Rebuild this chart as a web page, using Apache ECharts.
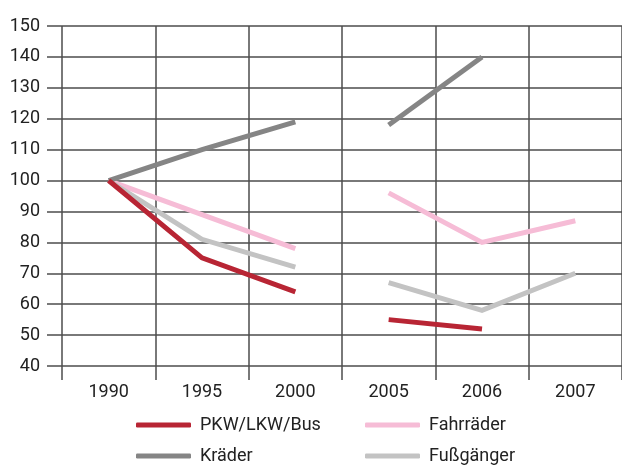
<!DOCTYPE html>
<html>
<head>
<meta charset="utf-8">
<script src="https://cdn.jsdelivr.net/npm/echarts@6/dist/echarts.min.js"></script>
<style>
  html, body { margin: 0; padding: 0; background: #fff; }
  #main { width: 622px; height: 467px; }
</style>
</head>
<body>
<div id="main"></div>
<script>
  // Jahre (Kategorien) und Indexwerte, 1990 = 100
  var years = ["1990", "1995", "2000", "2005", "2006", "2007"];
  var pkw = [100, 75, 64, 55, 52, null];
  var kraeder = [100, 110, 119, 118, 140, null];
  var fahrraeder = [100, 89, 78, 96, 80, 87];
  var fussgaenger = [100, 81, 72, 67, 58, 70];
  // Lücke zwischen 2000 und 2005
  var breakAfter = 2;

  var yMin = 40, yMax = 150, yStep = 10;

  var font = "Roboto, sans-serif";
  var gridColor = "#4d4d4d";

  function part(arr, first) {
    return arr.map(function (v, i) {
      var inPart = first ? i <= breakAfter : i > breakAfter;
      return inPart && v != null ? v : "-";
    });
  }

  function lineSeries(name, arr, color, first) {
    return {
      name: name,
      type: "line",
      data: part(arr, first),
      symbol: "none",
      showSymbol: false,
      connectNulls: false,
      lineStyle: { color: color, width: 5, cap: "butt", join: "miter" },
      itemStyle: { color: color }
    };
  }

  // ein Legendeneintrag pro Block, damit die Spalten sauber fluchten
  function legendItem(name, left, top) {
    return {
      left: left,
      top: top,
      data: [name],
      itemWidth: 55,
      itemHeight: 5,
      icon: "roundRect",
      selectedMode: false,
      padding: 0,
      textStyle: {
        fontFamily: font,
        fontSize: 18,
        color: "#222",
        padding: [0, 0, 0, 4]
      }
    };
  }

  var myChart = echarts.init(document.getElementById("main"));

  var option = {
    animation: false,
    legend: [
      legendItem("PKW/LKW/Bus", 136, 416),
      legendItem("Kräder", 136, 447),
      legendItem("Fahrräder", 365, 416),
      legendItem("Fußgänger", 365, 447)
    ],
    grid: {
      left: 62,
      top: 26,
      right: -2,
      bottom: 101
    },
    xAxis: {
      type: "category",
      boundaryGap: true,
      data: years,
      axisLine: { show: false },
      axisTick: {
        show: true,
        length: 14,
        lineStyle: { color: gridColor, width: 1.5 }
      },
      axisLabel: {
        margin: 17,
        fontFamily: font,
        fontSize: 18,
        color: "#222"
      },
      splitLine: {
        show: true,
        lineStyle: { color: gridColor, width: 1.5 }
      }
    },
    yAxis: {
      type: "value",
      min: yMin,
      max: yMax,
      interval: yStep,
      axisLine: { show: false },
      axisTick: {
        show: true,
        length: 15,
        lineStyle: { color: gridColor, width: 1.5 }
      },
      axisLabel: {
        margin: 22,
        fontFamily: font,
        fontSize: 18,
        color: "#222"
      },
      splitLine: {
        show: true,
        lineStyle: { color: gridColor, width: 1.5 }
      }
    },
    series: [
      lineSeries("Fahrräder", fahrraeder, "#f6bcd6", true),
      lineSeries("Fahrräder", fahrraeder, "#f6bcd6", false),
      lineSeries("Fußgänger", fussgaenger, "#c3c3c3", true),
      lineSeries("Fußgänger", fussgaenger, "#c3c3c3", false),
      lineSeries("Kräder", kraeder, "#858585", true),
      lineSeries("Kräder", kraeder, "#858585", false),
      lineSeries("PKW/LKW/Bus", pkw, "#b82534", true),
      lineSeries("PKW/LKW/Bus", pkw, "#b82534", false)
    ]
  };

  myChart.setOption(option);
</script>
</body>
</html>
